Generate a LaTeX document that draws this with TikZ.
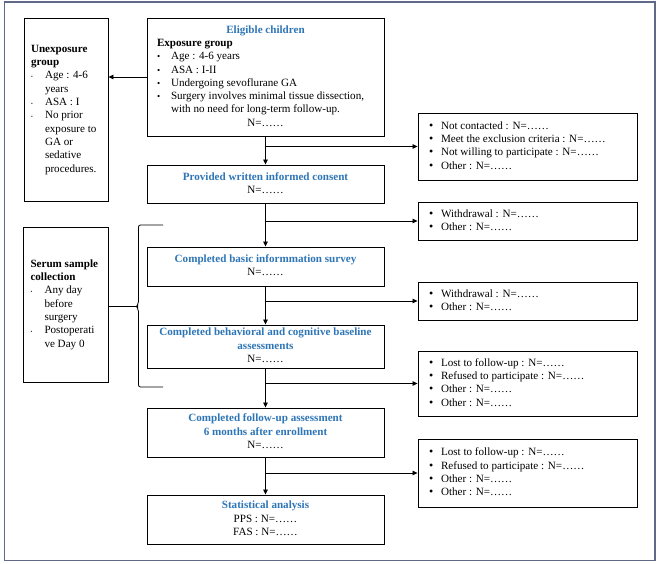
\documentclass[tikz,border=0pt]{standalone}
\usepackage{fontspec}
\setmainfont{Liberation Serif}
\usepackage{array}
\usetikzlibrary{arrows.meta}
\definecolor{ttl}{RGB}{46,117,182}
\definecolor{frm}{RGB}{96,106,136}
\newcommand\fs{\fontsize{11.1}{13.3}\selectfont}
\newcommand\ttlx[1]{\textcolor{ttl}{\textbf{#1}}}
\newcommand\bsm{{\small\textbullet}}
\newcommand\btiny{{\tiny\textbullet}}
\newcommand\bbig{{\large\textbullet}}
\tikzset{
  box/.style={draw, line width=0.9pt, inner sep=0pt, font=\fs},
  conn/.style={line width=0.8pt, -{Triangle[length=5pt,width=4.5pt]}},
  plain/.style={line width=0.8pt},
}
\begin{document}
\begin{tikzpicture}[x=1pt,y=-1pt]
\useasboundingbox (0,0) rectangle (658,564);
\draw[frm, line width=1.4pt] (4.5,2) rectangle (655,560.5);

% left boxes
\node[box, minimum width=84pt, minimum height=183pt] (unexp) at (66,109.5) {%
\begin{tabular}{@{}p{14pt}@{}p{56pt}@{}}
\multicolumn{2}{@{}l@{}}{\textbf{Unexposure}}\\
\multicolumn{2}{@{}l@{}}{\textbf{group}}\\
\btiny & Age : 4-6\\
 & years\\
\btiny & ASA : I\\
\btiny & No prior\\
 & exposure to\\
 & GA or\\
 & sedative\\
 & procedures.
\end{tabular}};

\node[box, minimum width=85pt, minimum height=155pt] (serum) at (65.5,304.5) {%
\begin{tabular}{@{}p{14pt}@{}p{56pt}@{}}
\multicolumn{2}{@{}l@{}}{\textbf{Serum sample}}\\
\multicolumn{2}{@{}l@{}}{\textbf{collection}}\\
\btiny & Any day\\
 & before\\
 & surgery\\
\btiny & Postoperati\\
 & ve Day 0
\end{tabular}};

% main column
\node[box, minimum width=237pt, minimum height=118pt] (elig) at (265.5,77) {%
\begin{tabular}{@{}p{14pt}@{}p{203pt}@{}}
\multicolumn{2}{@{}c@{}}{\ttlx{Eligible children}}\\
\multicolumn{2}{@{}l@{}}{\textbf{Exposure group}}\\
\bsm & Age : 4-6 years\\
\bsm & ASA : I-II\\
\bsm & Undergoing sevoflurane GA\\
\bsm & \mbox{Surgery involves minimal tissue dissection,}\\
 & with no need for long-term follow-up.\\
\multicolumn{2}{@{}c@{}}{N=……}
\end{tabular}};

\node[box, minimum width=237pt, minimum height=38pt] (consent) at (265.5,184) {%
\begin{tabular}{@{}c@{}}
\ttlx{Provided written informed consent}\\
N=……
\end{tabular}};

\node[box, minimum width=237pt, minimum height=39pt] (basic) at (265.5,266.5) {%
\begin{tabular}{@{}c@{}}
\ttlx{Completed basic informmation survey}\\
N=……
\end{tabular}};

\node[box, minimum width=237pt, minimum height=43pt] (behav) at (265.5,346.5) {%
\begin{tabular}{@{}c@{}}
\ttlx{Completed behavioral and cognitive baseline}\\
\ttlx{assessments}\\
N=……
\end{tabular}};

\node[box, minimum width=237pt, minimum height=49pt] (fu) at (265.5,432.5) {%
\begin{tabular}{@{}c@{}}
\ttlx{Completed follow-up assessment}\\
\ttlx{6 months after enrollment}\\
N=……
\end{tabular}};

\node[box, minimum width=237pt, minimum height=49pt] (stats) at (265.5,519.5) {%
\begin{tabular}{@{}c@{}}
\ttlx{Statistical analysis}\\
PPS : N=……\\
FAS : N=……
\end{tabular}};

% right boxes
\node[box, minimum width=219pt, minimum height=67pt] (excl) at (527.5,146.5) {%
\begin{tabular}{@{}p{12pt}@{}p{185pt}@{}}
\bbig & Not contacted : N=……\\
\bbig & Meet the exclusion criteria : N=……\\
\bbig & Not willing to participate : N=……\\
\bbig & Other : N=……
\end{tabular}};

\node[box, minimum width=219pt, minimum height=38pt] (wd1) at (527.5,221) {%
\begin{tabular}{@{}p{12pt}@{}p{185pt}@{}}
\bbig & Withdrawal : N=……\\
\bbig & Other : N=……
\end{tabular}};

\node[box, minimum width=219pt, minimum height=38pt] (wd2) at (527.5,301) {%
\begin{tabular}{@{}p{12pt}@{}p{185pt}@{}}
\bbig & Withdrawal : N=……\\
\bbig & Other : N=……
\end{tabular}};

\node[box, minimum width=219pt, minimum height=65pt] (lost1) at (527.5,383.5) {%
\begin{tabular}{@{}p{12pt}@{}p{185pt}@{}}
\bbig & Lost to follow-up : N=……\\
\bbig & Refused to participate : N=……\\
\bbig & Other : N=……\\
\bbig & Other : N=……
\end{tabular}};

\node[box, minimum width=219pt, minimum height=68pt] (lost2) at (527.5,473) {%
\begin{tabular}{@{}p{12pt}@{}p{185pt}@{}}
\bbig & Lost to follow-up : N=……\\
\bbig & Refused to participate : N=……\\
\bbig & Other : N=……\\
\bbig & Other : N=……
\end{tabular}};

% connectors
\draw[conn] (elig.west) -- (elig.west -| unexp.east);
\draw[conn] (elig.south) -- (consent.north);
\draw[conn] (consent.south) -- (basic.north);
\draw[conn] (basic.south) -- (behav.north);
\draw[conn] (behav.south) -- (fu.north);
\draw[conn] (fu.south) -- (stats.north);

\coordinate (b1) at (elig.south |- excl.west);
\coordinate (b2) at (consent.south |- wd1.west);
\coordinate (b3) at (basic.south |- wd2.west);
\coordinate (b4) at (behav.south |- lost1.west);
\coordinate (b5) at (fu.south |- lost2.west);
\draw[conn] (b1) -- (excl.west);
\draw[conn] (b2) -- (wd1.west);
\draw[conn] (b3) -- (wd2.west);
\draw[conn] (b4) -- (lost1.west);
\draw[conn] (b5) -- (lost2.west);

% brace
\coordinate (brtop) at (163,225);
\coordinate (brbot) at (163,387);
\coordinate (brtip) at (136.5,306.5);
\draw[plain, rounded corners=2pt] (brtop) -- (138.5,225) -- (138.5,303.5) -- (brtip) -- (138.5,309.5) -- (138.5,387) -- (brbot);
\draw[plain] (serum.east |- brtip) -- (brtip);
\end{tikzpicture}
\end{document}
